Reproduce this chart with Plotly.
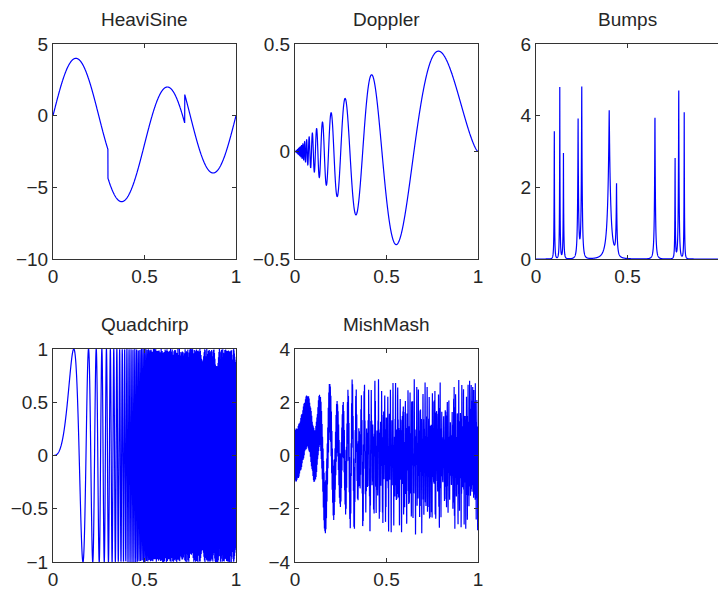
import numpy as np
import plotly.graph_objects as go

# ---- data: test-signal definitions (parameters read against the picture) ----
N_SAMPLES = 2048          # samples on [0, 1]
CHIRP_N = 1024            # chirp-rate constant
TITLES = ["HeaviSine", "Doppler", "Bumps", "Quadchirp", "MishMash"]

HEAVI_AMP = 4.0
HEAVI_FREQ = 4.0
HEAVI_JUMPS = [0.3, 0.72]

DOPPLER_EPS = 0.05
DOPPLER_FREQ = 1.05
DOPPLER_ENV = [1.16, 1.09, 0.42]   # envelope gain, exponent on t, exponent on (1-t)

BUMP_POS = [0.10, 0.13, 0.15, 0.23, 0.25, 0.40, 0.44, 0.65, 0.76, 0.78, 0.81]
BUMP_HGT = [4.0, 5.0, 3.0, 4.0, 5.0, 4.2, 2.1, 4.3, 3.1, 5.1, 4.2]
BUMP_WTH = [0.005, 0.005, 0.006, 0.01, 0.01, 0.03, 0.01, 0.01, 0.005, 0.008, 0.005]

HISINE_FACTOR = 0.6902
LINCHIRP_FACTOR = 0.125

X_TICKS = [0, 0.5, 1]
Y_TICKS = [
    [-10, -5, 0, 5],
    [-0.5, 0, 0.5],
    [0, 2, 4, 6],
    [-1, -0.5, 0, 0.5, 1],
    [-4, -2, 0, 2, 4],
]
Y_RANGES = [[-10, 5], [-0.5, 0.5], [0, 6], [-1, 1], [-4, 4]]

# ---- signals ----
t = np.linspace(0, 1, N_SAMPLES)
heavisine = (HEAVI_AMP * np.sin(HEAVI_FREQ * np.pi * t)
             - np.sign(t - HEAVI_JUMPS[0]) - np.sign(HEAVI_JUMPS[1] - t))
env = DOPPLER_ENV[0] * t ** DOPPLER_ENV[1] * (1 - t) ** DOPPLER_ENV[2]
doppler = env * np.sin((2 * np.pi * DOPPLER_FREQ) / (t + DOPPLER_EPS))
bumps = np.zeros_like(t)
for p, h, w in zip(BUMP_POS, BUMP_HGT, BUMP_WTH):
    bumps += h / (1 + np.abs((t - p) / w)) ** 4
quadchirp = np.sin((np.pi / 3) * t * (CHIRP_N * t ** 2))
mishmash = (quadchirp + np.sin(np.pi * (CHIRP_N * HISINE_FACTOR) * t)
            + np.sin(np.pi * t * (CHIRP_N * LINCHIRP_FACTOR * t)))
SIGNALS = [heavisine, doppler, bumps, quadchirp, mishmash]

# ---- layout ----
W, H = 718, 590
X_DOMS_PX = [(53, 236), (295, 478), (536, 718), (53, 236), (295, 478)]
Y_DOMS_PX = [(44, 259), (44, 259), (44, 259), (349, 562), (349, 562)]

FONT = "Liberation Sans, Arial, Helvetica, sans-serif"
TXT = "#262626"
fig = go.Figure()
annotations = []
for i in range(5):
    k = i + 1
    xa = "x" if k == 1 else f"x{k}"
    ya = "y" if k == 1 else f"y{k}"
    fig.add_trace(go.Scatter(x=t, y=SIGNALS[i], mode="lines",
                             line=dict(color="#0000ff", width=1.2,
                                       simplify=False),
                             xaxis=xa, yaxis=ya, showlegend=False,
                             hoverinfo="skip"))
    x0, x1 = X_DOMS_PX[i]
    y0, y1 = Y_DOMS_PX[i]
    xdom = [x0 / W, x1 / W]
    ydom = [1 - y1 / H, 1 - y0 / H]
    xr = [0, 1] if i != 2 else [0, (x1 - x0) / 183.0]
    common = dict(showgrid=False, zeroline=False, showline=True,
                  automargin=False,
                  linecolor="#333333", linewidth=1, ticks="inside",
                  ticklen=4, tickcolor="#333333",
                  tickfont=dict(family=FONT, size=19, color=TXT))
    fig.layout[("xaxis" if k == 1 else f"xaxis{k}")] = dict(
        domain=xdom, range=xr, anchor=ya, tickvals=X_TICKS,
        mirror="ticks", **common)
    fig.layout[("yaxis" if k == 1 else f"yaxis{k}")] = dict(
        domain=ydom, range=Y_RANGES[i], anchor=xa, tickvals=Y_TICKS[i],
        mirror=("ticks" if i != 2 else False), **common)
    annotations.append(dict(text=TITLES[i], xref="paper", yref="paper",
                            x=(xdom[0] + xdom[1]) / 2, y=ydom[1] + 12 / H,
                            xanchor="center", yanchor="bottom", showarrow=False,
                            font=dict(family=FONT, size=19, color=TXT)))

fig.update_layout(template="none", width=W, height=H,
                  margin=dict(l=0, r=0, t=0, b=0, autoexpand=False),
                  paper_bgcolor="white", plot_bgcolor="white",
                  annotations=annotations)
fig.write_html("out.html", config={"displayModeBar": False},
               post_script="document.body.style.margin='0';"
                           "document.body.style.overflow='hidden';")
